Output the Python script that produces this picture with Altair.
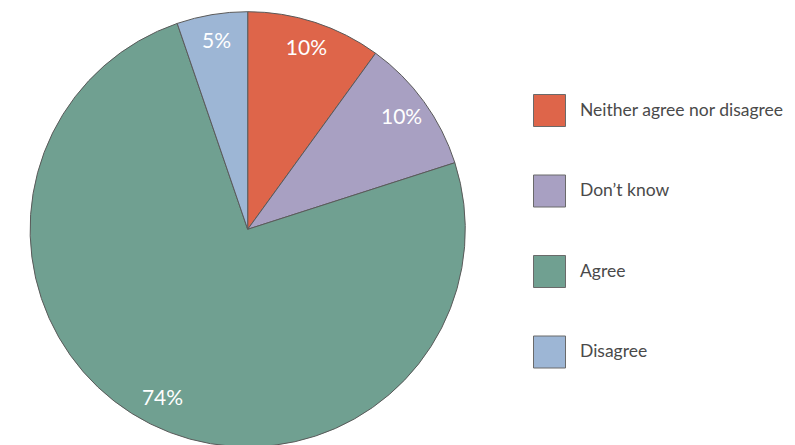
import altair as alt
import pandas as pd

categories = ["Neither agree nor disagree", "Don\u2019t know", "Agree", "Disagree"]
values = [10.0, 10.05, 74.7, 5.25]
labels = ["10%", "10%", "74%", "5%"]
colors = ["#DE654A", "#A8A0C2", "#70A091", "#9DB6D5"]

df = pd.DataFrame({
    "category": categories,
    "value": values,
    "label": labels,
    "order": list(range(len(categories))),
})

CX = 239.7
CY = 221.3

base = alt.Chart(df).encode(
    theta=alt.Theta("value:Q", stack=True),
    order=alt.Order("order:Q"),
)

arcs = base.mark_arc(radius=217.6, stroke="#5a5a5a", strokeWidth=1).encode(
    color=alt.Color(
        "category:N",
        scale=alt.Scale(domain=categories, range=colors),
        sort=categories,
        legend=alt.Legend(
            title=None,
            orient="none",
            legendX=525,
            legendY=86,
            symbolType="square",
            symbolSize=1024,
            symbolStrokeColor="#6a6a6a",
            symbolStrokeWidth=1,
            symbolOpacity=1,
            labelFont="Lato",
            labelFontSize=17.5,
            labelColor="#4a4a4a",
            labelOffset=14,
            rowPadding=43.5,
            padding=0,
            labelLimit=400,
        ),
    ),
    x=alt.value(CX),
    y=alt.value(CY),
)

texts = base.mark_text(
    radius=190, font="Lato", fontSize=21, color="white", align="center", baseline="middle"
).encode(
    text="label:N",
    x=alt.value(CX),
    y=alt.value(CY),
)

chart = alt.layer(arcs, texts).properties(
    width=479, height=420, padding=0
).configure_view(stroke=None)

chart.save("out.html", embed_options={"renderer": "svg", "actions": False})
